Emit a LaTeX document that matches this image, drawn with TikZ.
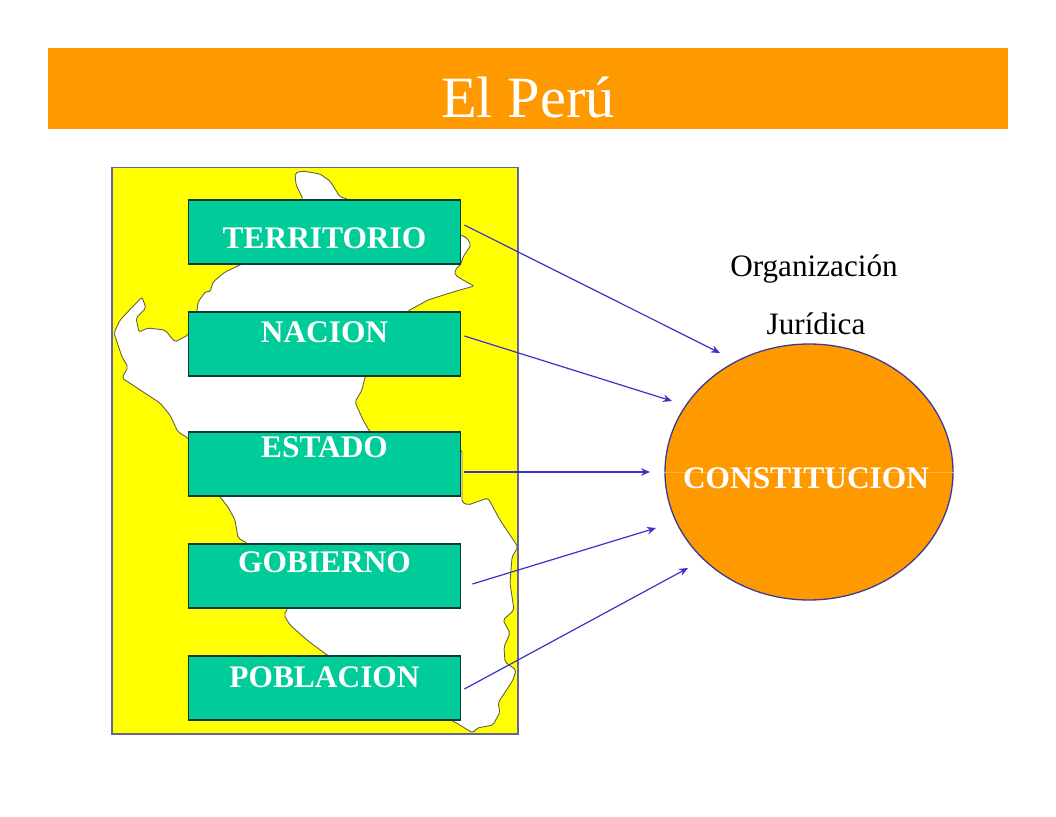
\documentclass[tikz,border=0pt]{standalone}
\usepackage{fontspec}
\setmainfont{Liberation Serif}
\usetikzlibrary{shapes.geometric,arrows.meta}
\definecolor{bannerorange}{HTML}{FF9900}
\definecolor{boxgreen}{HTML}{00CC99}
\definecolor{boxedge}{HTML}{0E3B3A}
\definecolor{arrowblue}{HTML}{3C32C8}
\definecolor{mapedge}{HTML}{66669A}
\definecolor{mapyellow}{HTML}{FFFF00}
\definecolor{ringblue}{HTML}{3B3A96}
\definecolor{faintline}{HTML}{FFB040}
\tikzset{
  banner/.style={fill=bannerorange,draw=none},
  mapframe/.style={fill=mapyellow,draw=mapedge,line width=1.4pt},
  territory/.style={fill=white,draw=black!70!yellow,line width=0.9pt,rounded corners=2pt},
  fieldbox/.style={rectangle,fill=boxgreen,draw=boxedge,line width=1.8pt,minimum width=272pt,minimum height=64pt,
    inner sep=0pt,text height=0pt,text depth=0pt,text=white,font=\fontsize{31.4}{31.4}\selectfont\bfseries},
  link/.style={draw=arrowblue,line width=1.2pt,-{Stealth[length=9pt,width=7.5pt]}},
  plain/.style={font=\fontsize{31.2}{31.2}\selectfont,inner sep=0pt,anchor=base},
}
\begin{document}
\begin{tikzpicture}[x=1pt,y=-1pt]
\useasboundingbox (0,0) rectangle (1056,816);
\fill[white] (0,0) rectangle (1056,816);
\path[banner] (48,48) rectangle (1008,129);
\node[plain,text=white,font=\fontsize{58.4}{58.4}\selectfont] (title) at (528,117) {El Perú};
\path[mapframe] (112,167.5) rectangle (518,734);
\draw[territory] (295,173) -- (303,171) -- (320,174) -- (330,181) -- (340,197) -- (348,199) -- (348,225)
 -- (461,235) -- (467,238) -- (471,245) -- (463,257) -- (461,264) -- (455,270) -- (455,275) -- (463,280) -- (474,286)
 -- (453,292) -- (428,300) -- (408,311) -- (365,377) -- (362,390) -- (355,402) -- (363,420) -- (370,432)
 -- (462,450) -- (462,502) -- (468,505) -- (488,498) -- (500,520) -- (518,547) -- (512,557) -- (510,583)
 -- (514,610) -- (503,620) -- (510,633) -- (504,647) -- (505,662) -- (516,670) -- (513,680) -- (498,703)
 -- (500,712) -- (493,725) -- (477,728) -- (473,733) -- (453,721) -- (327,655) -- (307,640) -- (290,625)
 -- (284,615) -- (288,608) -- (247,543) -- (238,538) -- (235,520) -- (228,507) -- (220,497) -- (188,438)
 -- (178,432) -- (170,415) -- (160,403) -- (122,378) -- (128,367) -- (122,357) -- (114,333) -- (120,320)
 -- (142,297) -- (146,308) -- (136,318) -- (139,332) -- (148,328) -- (165,330) -- (175,342) -- (188,335)
 -- (197,311) -- (198,302) -- (206,291) -- (210,292) -- (213,282) -- (225,272) -- (242,264) -- (303,199)
 -- (296,185) -- cycle;
\node[fieldbox] (terr) at (324.5,232) {\raisebox{-16pt}{TERRITORIO}};
\node[fieldbox] (naci) at (324.5,344) {\raisebox{2pt}{NACION}};
\node[fieldbox] (esta) at (324.5,464) {\raisebox{7pt}{ESTADO}};
\node[fieldbox] (gobi) at (324.5,576) {\raisebox{4pt}{GOBIERNO}};
\node[fieldbox] (pobl) at (324.5,688) {\raisebox{1pt}{POBLACION}};
\node[ellipse,fill=bannerorange,draw=ringblue,line width=1.3pt,minimum width=288pt,minimum height=256pt,inner sep=0pt] (cons) at (809,472) {};
\draw[faintline,line width=0.5pt] (cons.west) -- (cons.east);
\node[plain,text=white,font=\fontsize{31.4}{31.4}\selectfont\bfseries] (cont) at (806,488) {CONSTITUCION};
\node[plain] (org) at (814,276) {Organización};
\node[plain] (jur) at (816,334) {Jurídica};
\draw[link] ([shift={(3,-7)}]terr.east) -- ([shift={(-89,-119)}]cons.center);
\draw[link] ([shift={(3,-8)}]naci.east) -- ([shift={(-137,-71)}]cons.center);
\draw[link] ([shift={(3,8)}]esta.east) -- ([shift={(-159,0)}]cons.center);
\draw[link] ([shift={(11,8)}]gobi.east) -- ([shift={(-153,56)}]cons.center);
\draw[link] ([shift={(3,1)}]pobl.east) -- ([shift={(-121,96)}]cons.center);
\end{tikzpicture}
\end{document}
